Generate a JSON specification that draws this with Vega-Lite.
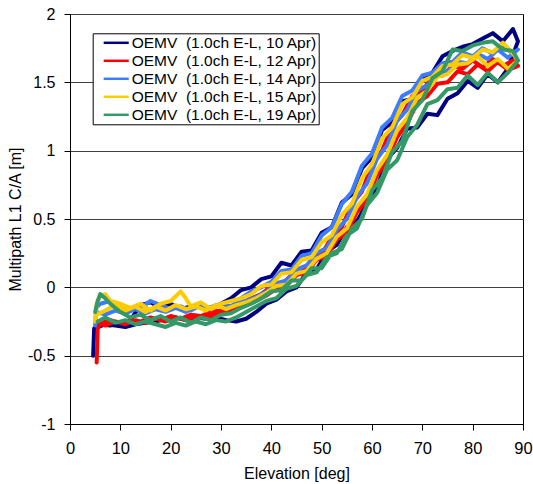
{
"$schema":"https://vega.github.io/schema/vega-lite/v6.json",
"width":453,"height":410,
"autosize":{"type":"none"},
"padding":{"left":70,"top":14,"right":10,"bottom":60},
"background":"white",
"config":{"view":{"stroke":"#000","strokeWidth":1},"font":"Liberation Sans"},
"data":{"values":[
{"s":"10 Apr","i":0,"e":4.6,"m":-0.5},{"s":"10 Apr","i":1,"e":4.8,"m":-0.3},{"s":"10 Apr","i":2,"e":6,"m":-0.27},{"s":"10 Apr","i":3,"e":8,"m":-0.28},{"s":"10 Apr","i":4,"e":10,"m":-0.26},{"s":"10 Apr","i":5,"e":12,"m":-0.24},{"s":"10 Apr","i":6,"e":14,"m":-0.13},{"s":"10 Apr","i":7,"e":16,"m":-0.11},{"s":"10 Apr","i":8,"e":18,"m":-0.15},{"s":"10 Apr","i":9,"e":20,"m":-0.12},{"s":"10 Apr","i":10,"e":22,"m":-0.16},{"s":"10 Apr","i":11,"e":24,"m":-0.14},{"s":"10 Apr","i":12,"e":26,"m":-0.13},{"s":"10 Apr","i":13,"e":28,"m":-0.16},{"s":"10 Apr","i":14,"e":30,"m":-0.12},{"s":"10 Apr","i":15,"e":32,"m":-0.08},{"s":"10 Apr","i":16,"e":34,"m":-0.02},{"s":"10 Apr","i":17,"e":36,"m":0},{"s":"10 Apr","i":18,"e":38,"m":0.06},{"s":"10 Apr","i":19,"e":40,"m":0.08},{"s":"10 Apr","i":20,"e":42,"m":0.18},{"s":"10 Apr","i":21,"e":44,"m":0.16},{"s":"10 Apr","i":22,"e":46,"m":0.26},{"s":"10 Apr","i":23,"e":48,"m":0.27},{"s":"10 Apr","i":24,"e":50,"m":0.4},{"s":"10 Apr","i":25,"e":52,"m":0.44},{"s":"10 Apr","i":26,"e":54,"m":0.62},{"s":"10 Apr","i":27,"e":56,"m":0.68},{"s":"10 Apr","i":28,"e":58,"m":0.87},{"s":"10 Apr","i":29,"e":60,"m":0.95},{"s":"10 Apr","i":30,"e":62,"m":1.15},{"s":"10 Apr","i":31,"e":64,"m":1.21},{"s":"10 Apr","i":32,"e":66,"m":1.36},{"s":"10 Apr","i":33,"e":68,"m":1.38},{"s":"10 Apr","i":34,"e":70,"m":1.52},{"s":"10 Apr","i":35,"e":72,"m":1.57},{"s":"10 Apr","i":36,"e":74,"m":1.69},{"s":"10 Apr","i":37,"e":76,"m":1.73},{"s":"10 Apr","i":38,"e":78,"m":1.76},{"s":"10 Apr","i":39,"e":80,"m":1.78},{"s":"10 Apr","i":40,"e":82,"m":1.82},{"s":"10 Apr","i":41,"e":84,"m":1.86},{"s":"10 Apr","i":42,"e":86,"m":1.8},{"s":"10 Apr","i":43,"e":88,"m":1.89},{"s":"10 Apr","i":44,"e":89,"m":1.8},
{"s":"10 Apr","i":45,"e":87,"m":1.6},{"s":"10 Apr","i":46,"e":85,"m":1.5},{"s":"10 Apr","i":47,"e":83,"m":1.56},{"s":"10 Apr","i":48,"e":81,"m":1.46},{"s":"10 Apr","i":49,"e":79,"m":1.51},{"s":"10 Apr","i":50,"e":77,"m":1.42},{"s":"10 Apr","i":51,"e":75,"m":1.38},{"s":"10 Apr","i":52,"e":73,"m":1.26},{"s":"10 Apr","i":53,"e":71,"m":1.27},{"s":"10 Apr","i":54,"e":69,"m":1.17},{"s":"10 Apr","i":55,"e":67,"m":1.16},{"s":"10 Apr","i":56,"e":65,"m":1.02},{"s":"10 Apr","i":57,"e":63,"m":0.94},{"s":"10 Apr","i":58,"e":61,"m":0.73},{"s":"10 Apr","i":59,"e":59,"m":0.62},{"s":"10 Apr","i":60,"e":57,"m":0.48},{"s":"10 Apr","i":61,"e":55,"m":0.44},{"s":"10 Apr","i":62,"e":53,"m":0.31},{"s":"10 Apr","i":63,"e":51,"m":0.26},{"s":"10 Apr","i":64,"e":49,"m":0.13},{"s":"10 Apr","i":65,"e":47,"m":0.11},{"s":"10 Apr","i":66,"e":45,"m":0},{"s":"10 Apr","i":67,"e":43,"m":-0.03},{"s":"10 Apr","i":68,"e":41,"m":-0.09},{"s":"10 Apr","i":69,"e":39,"m":-0.12},{"s":"10 Apr","i":70,"e":37,"m":-0.18},{"s":"10 Apr","i":71,"e":35,"m":-0.23},{"s":"10 Apr","i":72,"e":33,"m":-0.25},{"s":"10 Apr","i":73,"e":31,"m":-0.24},{"s":"10 Apr","i":74,"e":29,"m":-0.22},{"s":"10 Apr","i":75,"e":27,"m":-0.23},{"s":"10 Apr","i":76,"e":25,"m":-0.22},{"s":"10 Apr","i":77,"e":23,"m":-0.24},{"s":"10 Apr","i":78,"e":21,"m":-0.22},{"s":"10 Apr","i":79,"e":19,"m":-0.23},{"s":"10 Apr","i":80,"e":17,"m":-0.25},{"s":"10 Apr","i":81,"e":15,"m":-0.26},{"s":"10 Apr","i":82,"e":13,"m":-0.27},{"s":"10 Apr","i":83,"e":11,"m":-0.29},{"s":"10 Apr","i":84,"e":9,"m":-0.28},{"s":"10 Apr","i":85,"e":7,"m":-0.27},{"s":"10 Apr","i":86,"e":5,"m":-0.3},
{"s":"12 Apr","i":0,"e":5.3,"m":-0.55},{"s":"12 Apr","i":1,"e":5.5,"m":-0.3},{"s":"12 Apr","i":2,"e":6,"m":-0.27},{"s":"12 Apr","i":3,"e":7,"m":-0.25},{"s":"12 Apr","i":4,"e":8,"m":-0.24},{"s":"12 Apr","i":5,"e":10,"m":-0.26},{"s":"12 Apr","i":6,"e":12,"m":-0.24},{"s":"12 Apr","i":7,"e":14,"m":-0.25},{"s":"12 Apr","i":8,"e":16,"m":-0.22},{"s":"12 Apr","i":9,"e":18,"m":-0.24},{"s":"12 Apr","i":10,"e":20,"m":-0.21},{"s":"12 Apr","i":11,"e":22,"m":-0.23},{"s":"12 Apr","i":12,"e":24,"m":-0.2},{"s":"12 Apr","i":13,"e":26,"m":-0.21},{"s":"12 Apr","i":14,"e":28,"m":-0.18},{"s":"12 Apr","i":15,"e":30,"m":-0.17},{"s":"12 Apr","i":16,"e":32,"m":-0.14},{"s":"12 Apr","i":17,"e":34,"m":-0.12},{"s":"12 Apr","i":18,"e":36,"m":-0.08},{"s":"12 Apr","i":19,"e":38,"m":-0.05},{"s":"12 Apr","i":20,"e":40,"m":0.01},{"s":"12 Apr","i":21,"e":42,"m":0.02},{"s":"12 Apr","i":22,"e":44,"m":0.09},{"s":"12 Apr","i":23,"e":46,"m":0.11},{"s":"12 Apr","i":24,"e":48,"m":0.2},{"s":"12 Apr","i":25,"e":50,"m":0.24},{"s":"12 Apr","i":26,"e":52,"m":0.37},{"s":"12 Apr","i":27,"e":54,"m":0.44},{"s":"12 Apr","i":28,"e":56,"m":0.61},{"s":"12 Apr","i":29,"e":58,"m":0.7},{"s":"12 Apr","i":30,"e":60,"m":0.9},{"s":"12 Apr","i":31,"e":62,"m":1},{"s":"12 Apr","i":32,"e":64,"m":1.18},{"s":"12 Apr","i":33,"e":66,"m":1.26},{"s":"12 Apr","i":34,"e":68,"m":1.4},{"s":"12 Apr","i":35,"e":70,"m":1.44},{"s":"12 Apr","i":36,"e":72,"m":1.54},{"s":"12 Apr","i":37,"e":74,"m":1.55},{"s":"12 Apr","i":38,"e":76,"m":1.62},{"s":"12 Apr","i":39,"e":78,"m":1.6},{"s":"12 Apr","i":40,"e":80,"m":1.66},{"s":"12 Apr","i":41,"e":82,"m":1.61},{"s":"12 Apr","i":42,"e":84,"m":1.67},{"s":"12 Apr","i":43,"e":86,"m":1.62},{"s":"12 Apr","i":44,"e":88,"m":1.66},{"s":"12 Apr","i":45,"e":89,"m":1.62},
{"s":"12 Apr","i":46,"e":87,"m":1.59},{"s":"12 Apr","i":47,"e":85,"m":1.65},{"s":"12 Apr","i":48,"e":83,"m":1.58},{"s":"12 Apr","i":49,"e":81,"m":1.63},{"s":"12 Apr","i":50,"e":79,"m":1.56},{"s":"12 Apr","i":51,"e":77,"m":1.58},{"s":"12 Apr","i":52,"e":75,"m":1.5},{"s":"12 Apr","i":53,"e":73,"m":1.49},{"s":"12 Apr","i":54,"e":71,"m":1.4},{"s":"12 Apr","i":55,"e":69,"m":1.35},{"s":"12 Apr","i":56,"e":67,"m":1.2},{"s":"12 Apr","i":57,"e":65,"m":1.1},{"s":"12 Apr","i":58,"e":63,"m":0.93},{"s":"12 Apr","i":59,"e":61,"m":0.82},{"s":"12 Apr","i":60,"e":59,"m":0.64},{"s":"12 Apr","i":61,"e":57,"m":0.55},{"s":"12 Apr","i":62,"e":55,"m":0.4},{"s":"12 Apr","i":63,"e":53,"m":0.35},{"s":"12 Apr","i":64,"e":51,"m":0.23},{"s":"12 Apr","i":65,"e":49,"m":0.2},{"s":"12 Apr","i":66,"e":47,"m":0.11},{"s":"12 Apr","i":67,"e":45,"m":0.09},{"s":"12 Apr","i":68,"e":43,"m":0.01},{"s":"12 Apr","i":69,"e":41,"m":-0.01},{"s":"12 Apr","i":70,"e":39,"m":-0.06},{"s":"12 Apr","i":71,"e":37,"m":-0.1},{"s":"12 Apr","i":72,"e":35,"m":-0.13},{"s":"12 Apr","i":73,"e":33,"m":-0.16},{"s":"12 Apr","i":74,"e":31,"m":-0.18},{"s":"12 Apr","i":75,"e":29,"m":-0.2},{"s":"12 Apr","i":76,"e":27,"m":-0.22},{"s":"12 Apr","i":77,"e":25,"m":-0.21},{"s":"12 Apr","i":78,"e":23,"m":-0.24},{"s":"12 Apr","i":79,"e":21,"m":-0.22},{"s":"12 Apr","i":80,"e":19,"m":-0.25},{"s":"12 Apr","i":81,"e":17,"m":-0.23},{"s":"12 Apr","i":82,"e":15,"m":-0.26},{"s":"12 Apr","i":83,"e":13,"m":-0.24},{"s":"12 Apr","i":84,"e":11,"m":-0.27},{"s":"12 Apr","i":85,"e":9,"m":-0.25},{"s":"12 Apr","i":86,"e":7,"m":-0.28},{"s":"12 Apr","i":87,"e":5.5,"m":-0.26},
{"s":"14 Apr","i":0,"e":5,"m":-0.28},{"s":"14 Apr","i":1,"e":5.2,"m":-0.15},{"s":"14 Apr","i":2,"e":6,"m":-0.12},{"s":"14 Apr","i":3,"e":8,"m":-0.1},{"s":"14 Apr","i":4,"e":10,"m":-0.14},{"s":"14 Apr","i":5,"e":12,"m":-0.17},{"s":"14 Apr","i":6,"e":14,"m":-0.15},{"s":"14 Apr","i":7,"e":16,"m":-0.1},{"s":"14 Apr","i":8,"e":18,"m":-0.13},{"s":"14 Apr","i":9,"e":20,"m":-0.16},{"s":"14 Apr","i":10,"e":22,"m":-0.14},{"s":"14 Apr","i":11,"e":24,"m":-0.17},{"s":"14 Apr","i":12,"e":26,"m":-0.13},{"s":"14 Apr","i":13,"e":28,"m":-0.15},{"s":"14 Apr","i":14,"e":30,"m":-0.12},{"s":"14 Apr","i":15,"e":32,"m":-0.14},{"s":"14 Apr","i":16,"e":34,"m":-0.08},{"s":"14 Apr","i":17,"e":36,"m":-0.03},{"s":"14 Apr","i":18,"e":38,"m":0},{"s":"14 Apr","i":19,"e":40,"m":0.04},{"s":"14 Apr","i":20,"e":42,"m":0.12},{"s":"14 Apr","i":21,"e":44,"m":0.13},{"s":"14 Apr","i":22,"e":46,"m":0.23},{"s":"14 Apr","i":23,"e":48,"m":0.25},{"s":"14 Apr","i":24,"e":50,"m":0.38},{"s":"14 Apr","i":25,"e":52,"m":0.44},{"s":"14 Apr","i":26,"e":54,"m":0.61},{"s":"14 Apr","i":27,"e":56,"m":0.7},{"s":"14 Apr","i":28,"e":58,"m":0.89},{"s":"14 Apr","i":29,"e":60,"m":0.98},{"s":"14 Apr","i":30,"e":62,"m":1.17},{"s":"14 Apr","i":31,"e":64,"m":1.24},{"s":"14 Apr","i":32,"e":66,"m":1.4},{"s":"14 Apr","i":33,"e":68,"m":1.44},{"s":"14 Apr","i":34,"e":70,"m":1.55},{"s":"14 Apr","i":35,"e":72,"m":1.57},{"s":"14 Apr","i":36,"e":74,"m":1.64},{"s":"14 Apr","i":37,"e":76,"m":1.65},{"s":"14 Apr","i":38,"e":78,"m":1.72},{"s":"14 Apr","i":39,"e":80,"m":1.69},{"s":"14 Apr","i":40,"e":82,"m":1.75},{"s":"14 Apr","i":41,"e":84,"m":1.71},{"s":"14 Apr","i":42,"e":86,"m":1.77},{"s":"14 Apr","i":43,"e":88,"m":1.71},{"s":"14 Apr","i":44,"e":89,"m":1.74},
{"s":"14 Apr","i":45,"e":87,"m":1.68},{"s":"14 Apr","i":46,"e":85,"m":1.74},{"s":"14 Apr","i":47,"e":83,"m":1.67},{"s":"14 Apr","i":48,"e":81,"m":1.71},{"s":"14 Apr","i":49,"e":79,"m":1.64},{"s":"14 Apr","i":50,"e":77,"m":1.65},{"s":"14 Apr","i":51,"e":75,"m":1.58},{"s":"14 Apr","i":52,"e":73,"m":1.56},{"s":"14 Apr","i":53,"e":71,"m":1.48},{"s":"14 Apr","i":54,"e":69,"m":1.44},{"s":"14 Apr","i":55,"e":67,"m":1.3},{"s":"14 Apr","i":56,"e":65,"m":1.22},{"s":"14 Apr","i":57,"e":63,"m":1.04},{"s":"14 Apr","i":58,"e":61,"m":0.94},{"s":"14 Apr","i":59,"e":59,"m":0.76},{"s":"14 Apr","i":60,"e":57,"m":0.66},{"s":"14 Apr","i":61,"e":55,"m":0.5},{"s":"14 Apr","i":62,"e":53,"m":0.42},{"s":"14 Apr","i":63,"e":51,"m":0.29},{"s":"14 Apr","i":64,"e":49,"m":0.25},{"s":"14 Apr","i":65,"e":47,"m":0.16},{"s":"14 Apr","i":66,"e":45,"m":0.13},{"s":"14 Apr","i":67,"e":43,"m":0.05},{"s":"14 Apr","i":68,"e":41,"m":0.03},{"s":"14 Apr","i":69,"e":39,"m":-0.03},{"s":"14 Apr","i":70,"e":37,"m":-0.07},{"s":"14 Apr","i":71,"e":35,"m":-0.1},{"s":"14 Apr","i":72,"e":33,"m":-0.12},{"s":"14 Apr","i":73,"e":31,"m":-0.15},{"s":"14 Apr","i":74,"e":29,"m":-0.13},{"s":"14 Apr","i":75,"e":27,"m":-0.16},{"s":"14 Apr","i":76,"e":25,"m":-0.14},{"s":"14 Apr","i":77,"e":23,"m":-0.18},{"s":"14 Apr","i":78,"e":21,"m":-0.15},{"s":"14 Apr","i":79,"e":19,"m":-0.18},{"s":"14 Apr","i":80,"e":17,"m":-0.16},{"s":"14 Apr","i":81,"e":15,"m":-0.19},{"s":"14 Apr","i":82,"e":13,"m":-0.16},{"s":"14 Apr","i":83,"e":11,"m":-0.19},{"s":"14 Apr","i":84,"e":9,"m":-0.17},{"s":"14 Apr","i":85,"e":7,"m":-0.2},{"s":"14 Apr","i":86,"e":5.2,"m":-0.18},
{"s":"15 Apr","i":0,"e":5,"m":-0.25},{"s":"15 Apr","i":1,"e":5.3,"m":-0.12},{"s":"15 Apr","i":2,"e":6,"m":-0.06},{"s":"15 Apr","i":3,"e":7,"m":-0.05},{"s":"15 Apr","i":4,"e":8,"m":-0.1},{"s":"15 Apr","i":5,"e":10,"m":-0.12},{"s":"15 Apr","i":6,"e":12,"m":-0.15},{"s":"15 Apr","i":7,"e":14,"m":-0.12},{"s":"15 Apr","i":8,"e":16,"m":-0.17},{"s":"15 Apr","i":9,"e":18,"m":-0.12},{"s":"15 Apr","i":10,"e":20,"m":-0.1},{"s":"15 Apr","i":11,"e":22,"m":-0.03},{"s":"15 Apr","i":12,"e":23,"m":-0.08},{"s":"15 Apr","i":13,"e":24,"m":-0.14},{"s":"15 Apr","i":14,"e":26,"m":-0.11},{"s":"15 Apr","i":15,"e":28,"m":-0.16},{"s":"15 Apr","i":16,"e":30,"m":-0.12},{"s":"15 Apr","i":17,"e":32,"m":-0.1},{"s":"15 Apr","i":18,"e":34,"m":-0.08},{"s":"15 Apr","i":19,"e":36,"m":-0.05},{"s":"15 Apr","i":20,"e":38,"m":0.01},{"s":"15 Apr","i":21,"e":40,"m":0.02},{"s":"15 Apr","i":22,"e":42,"m":0.1},{"s":"15 Apr","i":23,"e":44,"m":0.11},{"s":"15 Apr","i":24,"e":46,"m":0.2},{"s":"15 Apr","i":25,"e":48,"m":0.22},{"s":"15 Apr","i":26,"e":50,"m":0.33},{"s":"15 Apr","i":27,"e":52,"m":0.38},{"s":"15 Apr","i":28,"e":54,"m":0.53},{"s":"15 Apr","i":29,"e":56,"m":0.61},{"s":"15 Apr","i":30,"e":58,"m":0.8},{"s":"15 Apr","i":31,"e":60,"m":0.9},{"s":"15 Apr","i":32,"e":62,"m":1.09},{"s":"15 Apr","i":33,"e":64,"m":1.17},{"s":"15 Apr","i":34,"e":66,"m":1.34},{"s":"15 Apr","i":35,"e":68,"m":1.39},{"s":"15 Apr","i":36,"e":70,"m":1.51},{"s":"15 Apr","i":37,"e":72,"m":1.54},{"s":"15 Apr","i":38,"e":74,"m":1.62},{"s":"15 Apr","i":39,"e":76,"m":1.63},{"s":"15 Apr","i":40,"e":78,"m":1.7},{"s":"15 Apr","i":41,"e":80,"m":1.68},{"s":"15 Apr","i":42,"e":82,"m":1.74},{"s":"15 Apr","i":43,"e":84,"m":1.72},{"s":"15 Apr","i":44,"e":86,"m":1.79},{"s":"15 Apr","i":45,"e":88,"m":1.71},{"s":"15 Apr","i":46,"e":89,"m":1.66},
{"s":"15 Apr","i":47,"e":87,"m":1.6},{"s":"15 Apr","i":48,"e":85,"m":1.67},{"s":"15 Apr","i":49,"e":83,"m":1.62},{"s":"15 Apr","i":50,"e":81,"m":1.69},{"s":"15 Apr","i":51,"e":79,"m":1.64},{"s":"15 Apr","i":52,"e":77,"m":1.63},{"s":"15 Apr","i":53,"e":75,"m":1.56},{"s":"15 Apr","i":54,"e":73,"m":1.54},{"s":"15 Apr","i":55,"e":71,"m":1.44},{"s":"15 Apr","i":56,"e":69,"m":1.39},{"s":"15 Apr","i":57,"e":67,"m":1.24},{"s":"15 Apr","i":58,"e":65,"m":1.15},{"s":"15 Apr","i":59,"e":63,"m":0.97},{"s":"15 Apr","i":60,"e":61,"m":0.86},{"s":"15 Apr","i":61,"e":59,"m":0.68},{"s":"15 Apr","i":62,"e":57,"m":0.59},{"s":"15 Apr","i":63,"e":55,"m":0.43},{"s":"15 Apr","i":64,"e":53,"m":0.37},{"s":"15 Apr","i":65,"e":51,"m":0.25},{"s":"15 Apr","i":66,"e":49,"m":0.21},{"s":"15 Apr","i":67,"e":47,"m":0.12},{"s":"15 Apr","i":68,"e":45,"m":0.1},{"s":"15 Apr","i":69,"e":43,"m":0.02},{"s":"15 Apr","i":70,"e":41,"m":0.01},{"s":"15 Apr","i":71,"e":39,"m":-0.04},{"s":"15 Apr","i":72,"e":37,"m":-0.08},{"s":"15 Apr","i":73,"e":35,"m":-0.11},{"s":"15 Apr","i":74,"e":33,"m":-0.13},{"s":"15 Apr","i":75,"e":31,"m":-0.16},{"s":"15 Apr","i":76,"e":29,"m":-0.13},{"s":"15 Apr","i":77,"e":27,"m":-0.17},{"s":"15 Apr","i":78,"e":25,"m":-0.14},{"s":"15 Apr","i":79,"e":23,"m":-0.16},{"s":"15 Apr","i":80,"e":21,"m":-0.13},{"s":"15 Apr","i":81,"e":19,"m":-0.17},{"s":"15 Apr","i":82,"e":17,"m":-0.14},{"s":"15 Apr","i":83,"e":15,"m":-0.18},{"s":"15 Apr","i":84,"e":13,"m":-0.14},{"s":"15 Apr","i":85,"e":11,"m":-0.17},{"s":"15 Apr","i":86,"e":9,"m":-0.13},{"s":"15 Apr","i":87,"e":7,"m":-0.17},{"s":"15 Apr","i":88,"e":5.3,"m":-0.2},
{"s":"19 Apr","i":0,"e":5,"m":-0.18},{"s":"19 Apr","i":1,"e":5.5,"m":-0.1},{"s":"19 Apr","i":2,"e":6,"m":-0.05},{"s":"19 Apr","i":3,"e":7,"m":-0.08},{"s":"19 Apr","i":4,"e":8,"m":-0.12},{"s":"19 Apr","i":5,"e":10,"m":-0.18},{"s":"19 Apr","i":6,"e":12,"m":-0.22},{"s":"19 Apr","i":7,"e":14,"m":-0.2},{"s":"19 Apr","i":8,"e":16,"m":-0.24},{"s":"19 Apr","i":9,"e":18,"m":-0.21},{"s":"19 Apr","i":10,"e":20,"m":-0.25},{"s":"19 Apr","i":11,"e":22,"m":-0.22},{"s":"19 Apr","i":12,"e":24,"m":-0.26},{"s":"19 Apr","i":13,"e":26,"m":-0.22},{"s":"19 Apr","i":14,"e":28,"m":-0.24},{"s":"19 Apr","i":15,"e":30,"m":-0.2},{"s":"19 Apr","i":16,"e":32,"m":-0.19},{"s":"19 Apr","i":17,"e":34,"m":-0.15},{"s":"19 Apr","i":18,"e":36,"m":-0.12},{"s":"19 Apr","i":19,"e":38,"m":-0.08},{"s":"19 Apr","i":20,"e":40,"m":-0.03},{"s":"19 Apr","i":21,"e":42,"m":-0.02},{"s":"19 Apr","i":22,"e":44,"m":0.05},{"s":"19 Apr","i":23,"e":46,"m":0.05},{"s":"19 Apr","i":24,"e":48,"m":0.14},{"s":"19 Apr","i":25,"e":50,"m":0.14},{"s":"19 Apr","i":26,"e":52,"m":0.25},{"s":"19 Apr","i":27,"e":54,"m":0.28},{"s":"19 Apr","i":28,"e":56,"m":0.43},{"s":"19 Apr","i":29,"e":58,"m":0.5},{"s":"19 Apr","i":30,"e":60,"m":0.71},{"s":"19 Apr","i":31,"e":62,"m":0.8},{"s":"19 Apr","i":32,"e":64,"m":0.99},{"s":"19 Apr","i":33,"e":66,"m":1.07},{"s":"19 Apr","i":34,"e":68,"m":1.29},{"s":"19 Apr","i":35,"e":70,"m":1.37},{"s":"19 Apr","i":36,"e":72,"m":1.53},{"s":"19 Apr","i":37,"e":74,"m":1.58},{"s":"19 Apr","i":38,"e":76,"m":1.74},{"s":"19 Apr","i":39,"e":78,"m":1.73},{"s":"19 Apr","i":40,"e":80,"m":1.77},{"s":"19 Apr","i":41,"e":82,"m":1.79},{"s":"19 Apr","i":42,"e":84,"m":1.8},{"s":"19 Apr","i":43,"e":86,"m":1.74},{"s":"19 Apr","i":44,"e":88,"m":1.73},{"s":"19 Apr","i":45,"e":89,"m":1.66},
{"s":"19 Apr","i":46,"e":87,"m":1.57},{"s":"19 Apr","i":47,"e":85,"m":1.5},{"s":"19 Apr","i":48,"e":83,"m":1.57},{"s":"19 Apr","i":49,"e":81,"m":1.48},{"s":"19 Apr","i":50,"e":79,"m":1.55},{"s":"19 Apr","i":51,"e":77,"m":1.46},{"s":"19 Apr","i":52,"e":75,"m":1.45},{"s":"19 Apr","i":53,"e":73,"m":1.37},{"s":"19 Apr","i":54,"e":71,"m":1.34},{"s":"19 Apr","i":55,"e":69,"m":1.19},{"s":"19 Apr","i":56,"e":67,"m":1.1},{"s":"19 Apr","i":57,"e":65,"m":0.93},{"s":"19 Apr","i":58,"e":63,"m":0.86},{"s":"19 Apr","i":59,"e":61,"m":0.69},{"s":"19 Apr","i":60,"e":59,"m":0.6},{"s":"19 Apr","i":61,"e":57,"m":0.43},{"s":"19 Apr","i":62,"e":55,"m":0.38},{"s":"19 Apr","i":63,"e":53,"m":0.25},{"s":"19 Apr","i":64,"e":51,"m":0.22},{"s":"19 Apr","i":65,"e":49,"m":0.11},{"s":"19 Apr","i":66,"e":47,"m":0.09},{"s":"19 Apr","i":67,"e":45,"m":0.01},{"s":"19 Apr","i":68,"e":43,"m":-0.01},{"s":"19 Apr","i":69,"e":41,"m":-0.08},{"s":"19 Apr","i":70,"e":39,"m":-0.1},{"s":"19 Apr","i":71,"e":37,"m":-0.14},{"s":"19 Apr","i":72,"e":35,"m":-0.18},{"s":"19 Apr","i":73,"e":33,"m":-0.22},{"s":"19 Apr","i":74,"e":31,"m":-0.25},{"s":"19 Apr","i":75,"e":29,"m":-0.24},{"s":"19 Apr","i":76,"e":27,"m":-0.27},{"s":"19 Apr","i":77,"e":25,"m":-0.25},{"s":"19 Apr","i":78,"e":23,"m":-0.28},{"s":"19 Apr","i":79,"e":21,"m":-0.26},{"s":"19 Apr","i":80,"e":19,"m":-0.29},{"s":"19 Apr","i":81,"e":17,"m":-0.27},{"s":"19 Apr","i":82,"e":15,"m":-0.25},{"s":"19 Apr","i":83,"e":13,"m":-0.27},{"s":"19 Apr","i":84,"e":11,"m":-0.24},{"s":"19 Apr","i":85,"e":9,"m":-0.26},{"s":"19 Apr","i":86,"e":7,"m":-0.22},{"s":"19 Apr","i":87,"e":5.5,"m":-0.25}
]},
"mark":{"type":"line","strokeWidth":4,"strokeJoin":"round","strokeCap":"round"},
"encoding":{
"x":{"field":"e","type":"quantitative","scale":{"domain":[0,90],"nice":false,"zero":false},
 "axis":{"title":"Elevation [deg]","values":[0,10,20,30,40,50,60,70,80,90],"grid":false,"domainColor":"#000","tickColor":"#000","tickSize":6,"labelFontSize":16.5,"labelColor":"#000","labelPadding":10,"labelFlush":false,"titleFontSize":16,"titleFontWeight":"normal","titleColor":"#000","titlePadding":9}},
"y":{"field":"m","type":"quantitative","scale":{"domain":[-1,2],"nice":false,"zero":false},
 "axis":{"title":"Multipath L1 C/A [m]","values":[-1,-0.5,0,0.5,1,1.5,2],"labelExpr":"toString(datum.value)","grid":true,"gridColor":"#404040","gridOpacity":1,"domainColor":"#000","tickColor":"#000","tickSize":6,"labelFontSize":16,"labelColor":"#000","labelPadding":9,"labelFlush":false,"titleFontSize":16,"titleFontWeight":"normal","titleColor":"#000","titlePadding":4}},
"color":{"field":"s","type":"nominal","sort":null,
 "scale":{"domain":["10 Apr","12 Apr","14 Apr","15 Apr","19 Apr"],"range":["#000080","#FF0000","#3D7BFF","#FFCC00","#339966"]},
 "legend":{"orient":"none","legendX":22.7,"legendY":19.3,"title":null,"symbolType":"M-1.79,0H1.79","symbolStrokeWidth":2.5,"symbolSize":196,"symbolOffset":14,"labelFontSize":15.5,"labelColor":"#000","labelOffset":7,"labelLimit":400,"fillColor":"#fff","strokeColor":"#000","padding":1,"rowPadding":1,"labelExpr":"'OEMV\u00a0\u00a0(1.0ch E-L, ' + datum.label + ')\u00a0\u00a0\u00a0'"}},
"order":{"field":"i","type":"quantitative"}
}
}
